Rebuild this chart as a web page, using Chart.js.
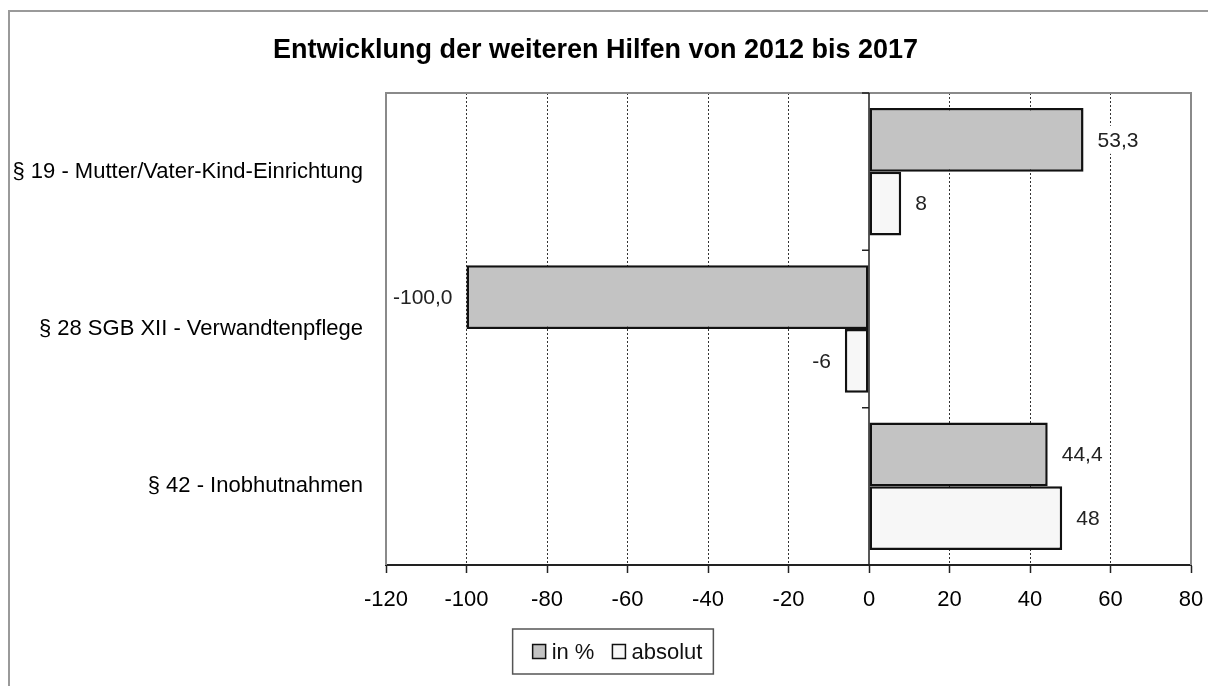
<!DOCTYPE html>
<html>
<head>
<meta charset="utf-8">
<script src="https://cdn.jsdelivr.net/npm/chart.js@4"></script>
<style>
  html, body { margin: 0; padding: 0; background: #fff; }
  #wrap { width: 1208px; height: 686px; position: relative; }
</style>
</head>
<body>
<div id="wrap"><canvas id="c" width="1208" height="686"></canvas></div>
<script>
const titleText = 'Entwicklung der weiteren Hilfen von 2012 bis 2017';
const categories = ['§ 19 - Mutter/Vater-Kind-Einrichtung', '§ 28 SGB XII - Verwandtenpflege', '§ 42 - Inobhutnahmen'];
const seriesNames = ['in %', 'absolut'];
const inProzent = [53.3, -100.0, 44.4];
const absolut = [8, -6, 48];
const xTicks = [-120, -100, -80, -60, -40, -20, 0, 20, 40, 60, 80];
const decimals = [1, 0];

const FONT = "'Liberation Sans', Arial, sans-serif";

const fmt = (v, d) => v.toFixed(d).replace('.', ',');

const decorPlugin = {
  id: 'decor',
  beforeDraw(chart) {
    const ctx = chart.ctx;
    ctx.save();
    ctx.fillStyle = '#fff';
    ctx.fillRect(0, 0, chart.width, chart.height);
    ctx.strokeStyle = '#9a9a9a';
    ctx.lineWidth = 2;
    ctx.beginPath();
    ctx.moveTo(9, chart.height);
    ctx.lineTo(9, 11);
    ctx.lineTo(chart.width, 11);
    ctx.stroke();
    ctx.restore();
  },
  beforeDatasetsDraw(chart) {
    const ctx = chart.ctx;
    const a = chart.chartArea;
    const xs = chart.scales.x, ys = chart.scales.y;
    ctx.save();
    ctx.strokeStyle = '#8a8a8a';
    ctx.lineWidth = 2;
    ctx.beginPath();
    ctx.moveTo(a.left, a.bottom);
    ctx.lineTo(a.left, a.top);
    ctx.lineTo(a.right, a.top);
    ctx.lineTo(a.right, a.bottom);
    ctx.stroke();
    const x0 = xs.getPixelForValue(0);
    ctx.strokeStyle = '#222';
    ctx.lineWidth = 1.5;
    ctx.beginPath();
    ctx.moveTo(x0, a.top);
    ctx.lineTo(x0, a.bottom);
    const n = categories.length;
    for (let i = 0; i <= n; i++) {
      let y;
      if (i === 0) y = a.top;
      else if (i === n) y = a.bottom;
      else y = (ys.getPixelForValue(i - 1) + ys.getPixelForValue(i)) / 2;
      ctx.moveTo(x0 - 7, y);
      ctx.lineTo(x0, y);
    }
    ctx.stroke();
    ctx.restore();
  },
  afterDatasetsDraw(chart) {
    const ctx = chart.ctx;
    ctx.save();
    ctx.font = '21px ' + FONT;
    ctx.textBaseline = 'middle';
    chart.data.datasets.forEach((ds, di) => {
      const meta = chart.getDatasetMeta(di);
      meta.data.forEach((el, i) => {
        const v = ds.data[i];
        const txt = fmt(v, decimals[di]);
        const w = ctx.measureText(txt).width;
        const gap = 14;
        let tx;
        if (v >= 0) { tx = el.x + gap; }
        else { tx = el.x - gap - w; }
        ctx.fillStyle = '#fff';
        ctx.fillRect(tx - 3, el.y - 14, w + 6, 28);
        ctx.fillStyle = '#222';
        ctx.textAlign = 'left';
        ctx.fillText(txt, tx, el.y + 1);
      });
    });
    ctx.restore();
  },
  afterDraw(chart) {
    const ctx = chart.ctx;
    ctx.save();
    ctx.font = '22px ' + FONT;
    ctx.textBaseline = 'middle';
    const sq = 13, sqh = 14, gapTxt = 6, gapItem = 18;
    const ds = chart.data.datasets;
    let contentW = 0;
    ds.forEach((d, i) => {
      contentW += sq + gapTxt + ctx.measureText(d.label).width;
      if (i < ds.length - 1) contentW += gapItem;
    });
    const padL = 20, padR = 11;
    const boxW = contentW + padL + padR;
    const cx = 613;
    const bx = cx - boxW / 2, by = 629, bh = 45;
    ctx.strokeStyle = '#555';
    ctx.lineWidth = 1.5;
    ctx.strokeRect(bx, by, boxW, bh);
    let x = bx + padL;
    const cy = by + bh / 2;
    ds.forEach((d) => {
      ctx.fillStyle = d.backgroundColor;
      ctx.fillRect(x, cy - sqh / 2, sq, sqh);
      ctx.strokeStyle = '#111';
      ctx.lineWidth = 1.5;
      ctx.strokeRect(x, cy - sqh / 2, sq, sqh);
      x += sq + gapTxt;
      ctx.fillStyle = '#111';
      ctx.textAlign = 'left';
      ctx.fillText(d.label, x, cy + 1);
      x += ctx.measureText(d.label).width + gapItem;
    });
    ctx.restore();
  }
};

new Chart(document.getElementById('c'), {
  type: 'bar',
  data: {
    labels: categories,
    datasets: [
      { label: seriesNames[0], data: inProzent, backgroundColor: '#c3c3c3', borderColor: '#111', borderWidth: 2.5, borderSkipped: false },
      { label: seriesNames[1], data: absolut, backgroundColor: '#f7f7f7', borderColor: '#111', borderWidth: 2.5, borderSkipped: false }
    ]
  },
  options: {
    indexAxis: 'y',
    responsive: false,
    animation: false,
    devicePixelRatio: 1,
    categoryPercentage: 0.81,
    barPercentage: 1.0,
    layout: { padding: { top: 0, left: 0, right: 17, bottom: 0 } },
    plugins: {
      legend: { display: false },
      tooltip: { enabled: false },
      title: {
        display: true,
        text: titleText,
        color: '#000',
        font: { family: FONT, size: 27, weight: 'bold' },
        padding: { top: 34, bottom: 26.6 }
      }
    },
    scales: {
      x: {
        type: 'linear',
        min: -120,
        max: 80,
        afterBuildTicks: (s) => { s.ticks = xTicks.map(v => ({ value: v })); },
        afterFit: (s) => { s.height = 121; s.paddingLeft = 0; s.paddingRight = 0; },
        ticks: { color: '#000', font: { family: FONT, size: 22 }, padding: 14, maxRotation: 0, autoSkip: false },
        grid: {
          color: (c) => (c.tick && (c.tick.value === -120 || c.tick.value === 0 || c.tick.value === 80)) ? 'rgba(0,0,0,0)' : '#333',
          lineWidth: 1,
          tickColor: '#222',
          tickLength: 8,
          tickWidth: 1.5
        },
        border: { display: true, color: '#222', width: 2, dash: [2, 2] }
      },
      y: {
        afterFit: (s) => { s.width = 386; },
        ticks: { color: '#000', font: { family: FONT, size: 22 }, padding: 23 },
        grid: { display: false, drawTicks: false },
        border: { display: false }
      }
    }
  },
  plugins: [decorPlugin]
});
</script>
</body>
</html>
